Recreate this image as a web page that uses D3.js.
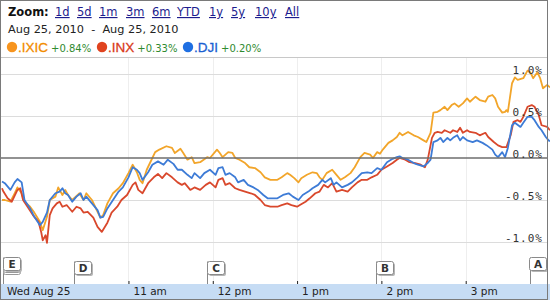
<!DOCTYPE html>
<html>
<head>
<meta charset="utf-8">
<script src="https://cdn.jsdelivr.net/npm/d3@7"></script>
<style>
  html, body { margin: 0; padding: 0; background: #fff; }
  svg { display: block; }
</style>
</head>
<body>
<svg id="chart" width="550" height="300"></svg>
<script>
// ---------- DATA ----------
const symbols = [".IXIC", ".INX", ".DJI"];
const changes = ["+0.84%", "+0.33%", "+0.20%"];
const zoomLinks = ["1d", "5d", "1m", "3m", "6m", "YTD", "1y", "5y", "10y", "All"];
const dateRange = "Aug 25, 2010  -  Aug 25, 2010";
const hourTicks = [90, 150, 210, 270, 330];             // minutes after 9:30
const hourLabels = ["11 am", "12 pm", "1 pm", "2 pm", "3 pm"];
const dayLabel = "Wed Aug 25";
const pctTicks = [1.0, 0.5, 0.0, -0.5, -1.0];
const pctLabels = ["1.0%", "0.5%", "0.0%", "-0.5%", "-1.0%"];
const flagLetters = ["E", "D", "C", "B", "A"];
const flagMinutes = [1, 51, 146, 266, 376];

// [minutes after 9:30, % change]
const ixicData = [[0,-0.50],[2,-0.50],[6,-0.52],[9,-0.42],[11,-0.35],[14,-0.42],[16,-0.52],[20,-0.58],[23,-0.65],[27,-0.76],[29,-0.86],[32,-0.70],[34,-0.50],[38,-0.46],[40,-0.35],[43,-0.44],[45,-0.38],[47,-0.44],[50,-0.50],[55,-0.42],[58,-0.50],[60,-0.42],[64,-0.50],[68,-0.64],[70,-0.71],[72,-0.68],[75,-0.54],[79,-0.42],[83,-0.36],[86,-0.30],[90,-0.18],[93,-0.08],[96,-0.17],[98,-0.26],[100,-0.30],[103,-0.14],[107,0.00],[109,0.07],[112,0.10],[117,0.14],[121,0.12],[123,0.06],[127,0.11],[129,0.06],[132,-0.02],[135,0.01],[137,-0.06],[141,-0.05],[146,0.01],[148,0.00],[153,0.10],[155,0.06],[157,0.01],[161,0.07],[164,0.06],[166,0.00],[169,-0.02],[173,-0.06],[176,-0.11],[180,-0.12],[184,-0.17],[187,-0.23],[191,-0.26],[196,-0.26],[199,-0.23],[203,-0.18],[205,-0.20],[208,-0.24],[211,-0.29],[213,-0.24],[217,-0.20],[221,-0.17],[224,-0.18],[226,-0.23],[228,-0.26],[231,-0.18],[235,-0.14],[237,-0.18],[241,-0.26],[244,-0.23],[248,-0.18],[251,-0.11],[255,0.01],[258,0.06],[262,0.04],[264,0.00],[267,0.07],[269,0.05],[271,0.10],[275,0.18],[278,0.21],[281,0.25],[283,0.30],[285,0.27],[289,0.31],[293,0.27],[296,0.25],[300,0.21],[302,0.19],[305,0.30],[307,0.54],[310,0.55],[312,0.57],[315,0.61],[317,0.57],[320,0.63],[322,0.65],[325,0.61],[328,0.65],[331,0.71],[333,0.67],[337,0.73],[340,0.69],[344,0.67],[346,0.73],[349,0.75],[351,0.71],[353,0.61],[356,0.54],[358,0.55],[359,0.57],[360,0.55],[363,0.89],[365,0.96],[367,0.93],[371,0.95],[374,1.04],[376,1.02],[378,0.95],[381,1.02],[383,0.95],[385,0.83],[388,0.87],[390,0.84]];

const inxData = [[0,-0.36],[1,-0.40],[4,-0.48],[7,-0.52],[11,-0.38],[13,-0.36],[15,-0.50],[19,-0.60],[22,-0.68],[26,-0.76],[28,-0.89],[29,-0.98],[31,-0.92],[32,-1.01],[34,-0.68],[36,-0.60],[39,-0.54],[41,-0.52],[43,-0.58],[46,-0.56],[50,-0.64],[53,-0.58],[56,-0.60],[58,-0.65],[61,-0.64],[65,-0.71],[68,-0.82],[71,-0.88],[75,-0.77],[78,-0.65],[82,-0.58],[85,-0.50],[89,-0.44],[93,-0.32],[95,-0.29],[97,-0.38],[100,-0.42],[104,-0.30],[108,-0.23],[111,-0.19],[114,-0.24],[117,-0.18],[121,-0.23],[125,-0.29],[128,-0.32],[130,-0.30],[134,-0.38],[137,-0.35],[141,-0.38],[145,-0.32],[148,-0.29],[152,-0.35],[154,-0.26],[157,-0.24],[159,-0.32],[162,-0.30],[166,-0.36],[169,-0.38],[173,-0.40],[177,-0.42],[180,-0.44],[184,-0.50],[187,-0.56],[191,-0.58],[196,-0.58],[199,-0.56],[203,-0.54],[206,-0.56],[210,-0.58],[212,-0.56],[216,-0.52],[219,-0.48],[223,-0.42],[226,-0.40],[229,-0.32],[232,-0.35],[235,-0.30],[238,-0.40],[242,-0.38],[246,-0.40],[249,-0.35],[253,-0.29],[256,-0.26],[260,-0.26],[263,-0.23],[267,-0.20],[270,-0.14],[274,-0.10],[278,-0.06],[281,-0.02],[283,0.00],[287,-0.02],[290,-0.05],[294,-0.06],[298,-0.08],[301,-0.11],[303,-0.02],[306,0.24],[308,0.30],[310,0.31],[313,0.30],[315,0.33],[319,0.30],[321,0.33],[324,0.31],[326,0.36],[328,0.30],[331,0.33],[333,0.31],[337,0.30],[340,0.27],[344,0.30],[346,0.25],[350,0.19],[353,0.15],[356,0.13],[359,0.13],[362,0.27],[364,0.43],[367,0.45],[369,0.43],[371,0.49],[374,0.61],[377,0.63],[379,0.61],[382,0.51],[384,0.39],[388,0.37],[390,0.33]];

const djiData = [[0,-0.28],[2,-0.30],[6,-0.38],[9,-0.29],[11,-0.25],[14,-0.29],[16,-0.50],[20,-0.60],[23,-0.70],[27,-0.80],[29,-0.76],[32,-0.65],[34,-0.50],[38,-0.42],[41,-0.40],[43,-0.36],[45,-0.42],[47,-0.44],[50,-0.52],[53,-0.46],[56,-0.42],[58,-0.50],[60,-0.46],[64,-0.54],[68,-0.62],[70,-0.71],[72,-0.70],[75,-0.60],[79,-0.50],[83,-0.40],[86,-0.35],[90,-0.23],[93,-0.11],[96,-0.14],[98,-0.18],[100,-0.26],[104,-0.17],[107,-0.08],[111,-0.04],[115,-0.08],[118,-0.02],[122,-0.07],[125,-0.14],[128,-0.14],[132,-0.20],[135,-0.24],[137,-0.18],[141,-0.24],[144,-0.18],[148,-0.14],[152,-0.20],[154,-0.12],[157,-0.11],[159,-0.20],[162,-0.18],[166,-0.23],[168,-0.29],[172,-0.26],[175,-0.32],[179,-0.35],[182,-0.38],[186,-0.44],[189,-0.48],[193,-0.48],[196,-0.48],[200,-0.44],[204,-0.42],[207,-0.46],[211,-0.50],[214,-0.44],[218,-0.40],[221,-0.36],[225,-0.32],[228,-0.26],[230,-0.29],[234,-0.24],[236,-0.32],[238,-0.29],[242,-0.35],[246,-0.32],[249,-0.29],[253,-0.23],[256,-0.18],[260,-0.17],[263,-0.18],[267,-0.12],[270,-0.14],[274,-0.05],[278,-0.01],[281,0.01],[283,0.02],[285,0.00],[289,-0.02],[293,-0.06],[296,-0.08],[300,-0.10],[303,-0.06],[305,-0.02],[307,0.19],[310,0.21],[312,0.24],[314,0.19],[317,0.24],[319,0.21],[321,0.24],[324,0.27],[326,0.21],[328,0.25],[331,0.21],[335,0.19],[338,0.21],[342,0.18],[345,0.15],[349,0.10],[351,0.04],[353,0.01],[356,0.07],[358,0.01],[360,0.12],[363,0.39],[365,0.42],[369,0.37],[371,0.42],[374,0.49],[377,0.49],[379,0.45],[382,0.37],[384,0.33],[387,0.25],[389,0.21],[390,0.20]];

const seriesData = [ixicData, inxData, djiData];
const lineColors = ["#f2a52a", "#d9482c", "#3d7bd6"];
const dotColors = ["#f7941e", "#e0431f", "#1f6fe2"];
const symColors = ["#f28c00", "#d93a1a", "#1a5fd1"];

// ---------- DRAW ----------
const svg = d3.select("#chart");
const W = 550, H = 300;
const plotTop = 57, barTop = 284;

const x = d3.scaleLinear().domain([0, 390]).range([2, 550]);
const y = d3.scaleLinear().domain([-1, 1]).range([242, 74]);

// Header
svg.append("text").attr("x", 8).attr("y", 16)
  .attr("font-family", "DejaVu Sans").attr("font-weight", "bold")
  .attr("font-size", 11.5).attr("fill", "#111").text("Zoom:");
const linkX = [55, 77, 99, 126, 152, 177, 209, 231, 255, 285];
svg.selectAll("text.zl").data(zoomLinks).join("text")
  .attr("class", "zl")
  .attr("x", (d, i) => linkX[i]).attr("y", 16)
  .attr("font-family", "DejaVu Sans").attr("font-size", 11.5)
  .attr("fill", "#1c1c8e").attr("text-decoration", "underline")
  .text(d => d);

svg.append("text").attr("x", 8).attr("y", 33)
  .attr("font-family", "DejaVu Sans").attr("font-size", 11.3)
  .attr("fill", "#222").attr("xml:space", "preserve")
  .style("white-space", "pre").text(dateRange);

// Legend
const legX = [12, 102, 188];
symbols.forEach((s, i) => {
  const g = svg.append("g");
  g.append("circle").attr("cx", legX[i]).attr("cy", 47).attr("r", 5.2).attr("fill", dotColors[i]);
  const t = g.append("text").attr("x", legX[i] + 6).attr("y", 52)
    .attr("font-family", "Liberation Sans, Arial").attr("font-size", 13.5)
    .attr("fill", symColors[i]).attr("stroke", symColors[i]).attr("stroke-width", 0.3)
    .text(s);
  const w = t.node().getComputedTextLength();
  g.append("text").attr("x", legX[i] + 6 + w + 3).attr("y", 52)
    .attr("font-family", "DejaVu Sans").attr("font-size", 10)
    .attr("fill", "#2f8a2f").text(changes[i]);
});

// separator under legend
svg.append("line").attr("x1", 0).attr("x2", 547).attr("y1", plotTop + 0.5).attr("y2", plotTop + 0.5)
  .attr("stroke", "#c8c8c8");

// vertical gridlines
svg.selectAll("line.vg").data(hourTicks).join("line").attr("class", "vg")
  .attr("x1", d => Math.round(x(d)) + 0.5).attr("x2", d => Math.round(x(d)) + 0.5)
  .attr("y1", plotTop + 1).attr("y2", barTop)
  .attr("stroke", "#eeeeee");

// horizontal gridlines
svg.selectAll("line.hg").data(pctTicks.filter(d => d !== 0)).join("line").attr("class", "hg")
  .attr("x1", 1).attr("x2", 547)
  .attr("y1", d => Math.round(y(d)) + 0.5).attr("y2", d => Math.round(y(d)) + 0.5)
  .attr("stroke", "#dcdcdc");

// series lines
const line = d3.line().x(d => x(d[0])).y(d => y(d[1]));
seriesData.forEach((data, i) => {
  svg.append("path").datum(data).attr("d", line)
    .attr("fill", "none").attr("stroke", lineColors[i])
    .attr("stroke-width", 1.8).attr("stroke-linejoin", "round");
});

// zero line
svg.append("line").attr("x1", 1).attr("x2", 547)
  .attr("y1", y(0)).attr("y2", y(0))
  .attr("stroke", "#6e6e6e").attr("stroke-width", 1.5);

// right axis labels
const yAxis = d3.axisLeft(y).tickValues(pctTicks).tickSize(0).tickPadding(0)
  .tickFormat((d, i) => pctLabels[i]);
const ya = svg.append("g").attr("transform", "translate(543,0)").call(yAxis);
ya.select(".domain").remove();
ya.selectAll("text")
  .attr("font-family", "DejaVu Sans Mono").attr("font-size", 11)
  .attr("letter-spacing", "1px")
  .attr("fill", "#333").attr("text-anchor", "end")
  .attr("dy", "-1px");

// bottom axis bar
svg.append("rect").attr("x", 0).attr("y", barTop).attr("width", W).attr("height", H - barTop)
  .attr("fill", "#c6dcf4");

const xAxis = d3.axisBottom(x).tickValues(hourTicks).tickSize(-3).tickPadding(0)
  .tickFormat((d, i) => hourLabels[i]);
const xa = svg.append("g").attr("transform", `translate(0,${barTop})`).call(xAxis);
xa.select(".domain").remove();
xa.selectAll(".tick line").attr("stroke", "#222");
xa.selectAll(".tick text")
  .attr("font-family", "DejaVu Sans").attr("font-size", 10.5)
  .attr("fill", "#222").attr("text-anchor", "start")
  .attr("x", 4.5).attr("y", 11).attr("dy", 0);
svg.append("text").attr("x", 7).attr("y", 295)
  .attr("font-family", "DejaVu Sans").attr("font-size", 10.5)
  .attr("fill", "#222").text(dayLabel);

// flags
flagLetters.forEach((L, i) => {
  const px = Math.round(x(flagMinutes[i])) + 0.5;
  const edge = (L === "E" || L === "A");
  const top = edge ? 257.5 : 261.5;
  const bx = L === "A" ? Math.min(px, 529.5) : px;
  const g = svg.append("g");
  g.append("line").attr("x1", px).attr("x2", px).attr("y1", top).attr("y2", barTop)
    .attr("stroke", "#888");
  if (L === "E") {
    [4, 2].forEach(o => g.append("rect").attr("x", bx).attr("y", top + o)
      .attr("width", 17).attr("height", 13).attr("rx", 2)
      .attr("fill", "#fff").attr("stroke", "#999"));
  }
  g.append("rect").attr("x", bx + 1.5).attr("y", top + 1.5).attr("width", 17).attr("height", 13)
    .attr("rx", 2).attr("fill", "#b5b5b5");
  g.append("rect").attr("x", bx).attr("y", top).attr("width", 17).attr("height", 13)
    .attr("rx", 2).attr("fill", "#fff").attr("stroke", "#8a8a8a");
  g.append("text").attr("x", bx + 8.5).attr("y", top + 10.5)
    .attr("text-anchor", "middle").attr("font-family", "DejaVu Sans")
    .attr("font-weight", "bold").attr("font-size", 10.5).attr("fill", "#333").text(L);
});

// frame
svg.append("rect").attr("x", 0.5).attr("y", 0.5).attr("width", 547).attr("height", H - 1)
  .attr("fill", "none").attr("stroke", "#7a7a7a");
</script>
</body>
</html>
